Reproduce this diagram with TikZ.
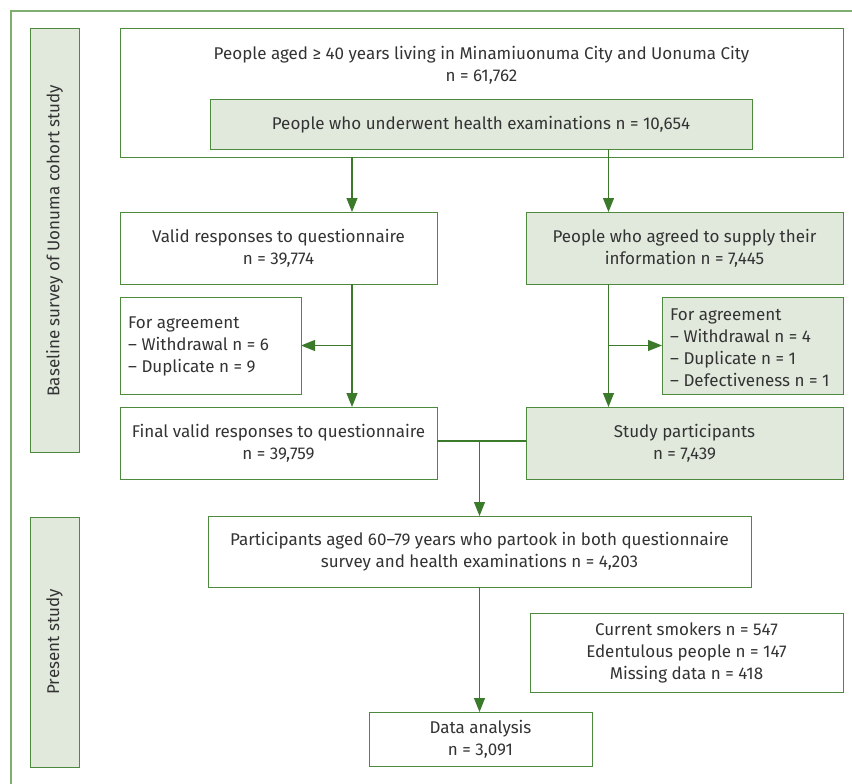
\documentclass[tikz,border=0pt]{standalone}
\usepackage{fontspec}
\setmainfont{Fira Sans}
\usetikzlibrary{arrows.meta}
\definecolor{gline}{HTML}{4E8A3E}
\definecolor{gfill}{HTML}{E1E9DD}
\definecolor{garrow}{HTML}{3B7A2B}
\definecolor{gframe}{HTML}{7FAE6F}
\definecolor{txt}{HTML}{333333}
\tikzset{
  box/.style={draw=gline, line width=1pt, text=txt, align=center, inner sep=0pt, outer sep=0pt},
  gbox/.style={box, fill=gfill},
  arr/.style={draw=garrow, line width=1.1pt, -{Triangle[length=14pt,width=11pt]}},
  ln/.style={draw=garrow, line width=1.1pt},
  txtn/.style={text=txt, align=center, inner sep=0pt},
  ltxt/.style={text=txt, align=left, inner sep=0pt, anchor=west}
}
\begin{document}
\begin{tikzpicture}[x=1pt,y=-1pt, font=\fontsize{17}{22}\selectfont]
\useasboundingbox (0,0) rectangle (852,784);
\draw[gframe, line width=1.2pt] (11,11) rectangle (880,800);
% side labels
\node[gbox, minimum width=49pt, minimum height=423pt] (side1) at (54.5,240.5) {};
\node[txtn, rotate=90] (side1t) at (side1.center) {Baseline survey of Uonuma cohort study};
\node[gbox, minimum width=49pt, minimum height=250pt] (side2) at (54.5,642) {};
\node[txtn, rotate=90] (side2t) at (side2.center) {Present study};
% top
\node[box, minimum width=723pt, minimum height=128pt] (top) at (481.5,93) {};
\node[txtn] (topt) at (481.5,65) {People aged ≥ 40 years living in Minamiuonuma City and Uonuma City\\n = 61,762};
\node[gbox, minimum width=542pt, minimum height=49pt] (exam) at (481,124.5) {People who underwent health examinations n = 10,654};
% second row
\node[box, minimum width=317pt, minimum height=72pt] (valid) at (278.5,248) {Valid responses to questionnaire\\n = 39,774};
\node[gbox, minimum width=317pt, minimum height=72pt] (agreed) at (684.5,248) {People who agreed to supply their\\information n = 7,445};
% exclusions
\node[box, minimum width=181pt, minimum height=97pt] (leftex) at (210.5,345.5) {};
\node[ltxt] (leftext) at (128,346) {For agreement\\– Withdrawal n = 6\\– Duplicate n = 9};
\node[gbox, minimum width=181pt, minimum height=97pt] (rightex) at (752.5,345.5) {};
\node[ltxt] (rightext) at (670,348) {For agreement\\– Withdrawal n = 4\\– Duplicate n = 1\\– Defectiveness n = 1};
% third row
\node[box, minimum width=317pt, minimum height=72pt] (final) at (278.5,443) {Final valid responses to questionnaire\\n = 39,759};
\node[gbox, minimum width=317pt, minimum height=72pt] (study) at (684.5,443) {Study participants\\n = 7,439};
% present study
\node[box, minimum width=543pt, minimum height=71pt] (part) at (479.5,551.5) {Participants aged 60–79 years who partook in both questionnaire\\survey and health examinations n = 4,203};
\node[box, minimum width=313pt, minimum height=79pt] (excl) at (686.5,652.5) {Current smokers n = 547\\Edentulous people n = 147\\Missing data n = 418};
\node[box, minimum width=223pt, minimum height=54pt] (data) at (480.5,739) {Data analysis\\n = 3,091};
% connectors
\coordinate (lx) at (352,0);
\coordinate (rx) at (608.5,0);
\coordinate (jl) at ([yshift=2pt]final.east);
\coordinate (jr) at ([yshift=2pt]study.west);
\draw[arr] (top.south -| lx) -- (valid.north -| lx);
\draw[arr] (exam.south -| rx) -- (agreed.north -| rx);
\draw[arr] (valid.south -| lx) -- (final.north -| lx);
\draw[arr] (leftex.east -| lx) -- (leftex.east);
\draw[arr] (agreed.south -| rx) -- (study.north -| rx);
\draw[arr] (rightex.west -| rx) -- (rightex.west);
\draw[ln] (jl) -- (jr);
\draw[arr] (part.north |- jl) -- (part.north);
\draw[arr] (part.south) -- (part.south |- data.north);
\end{tikzpicture}
\end{document}
